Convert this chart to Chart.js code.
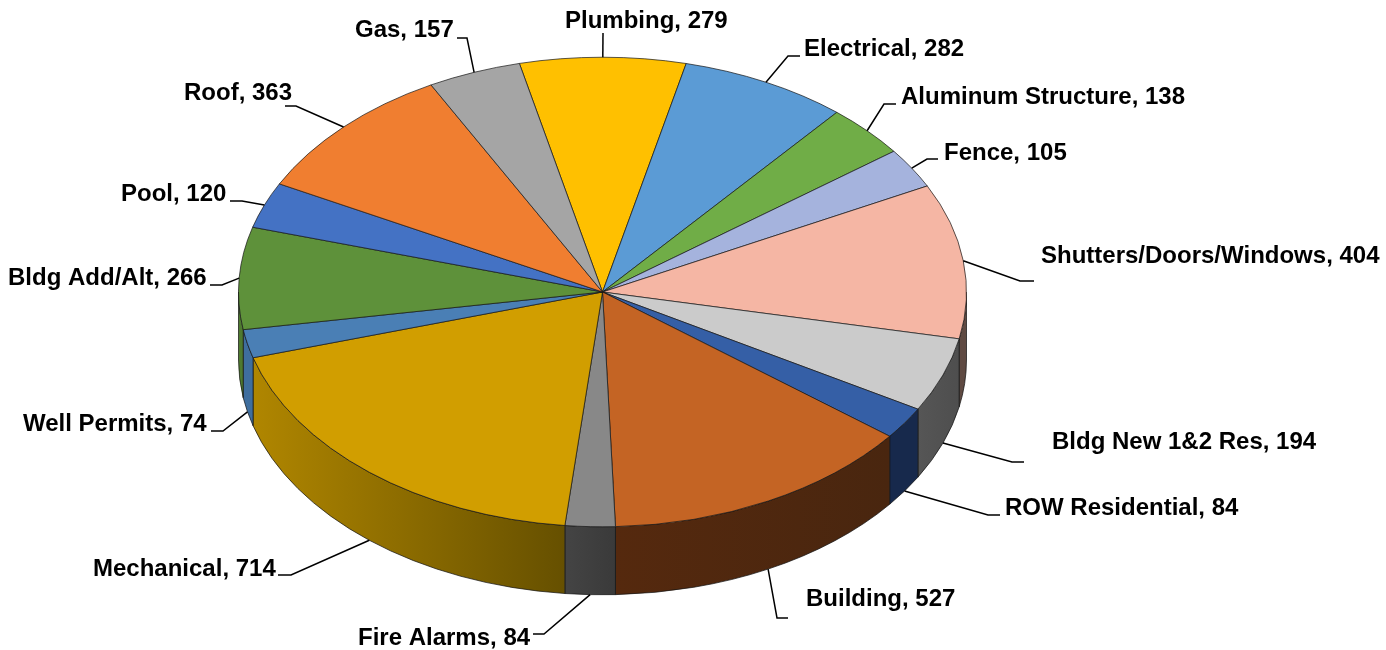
<!DOCTYPE html>
<html>
<head>
<meta charset="utf-8">
<style>html,body{margin:0;padding:0;background:#fff}canvas{display:block}</style>
<script src="https://cdn.jsdelivr.net/npm/chart.js@4/dist/chart.umd.min.js"></script>
</head>
<body>
<canvas id="c" width="1386" height="650"></canvas>
<script>
const categories = ["Plumbing","Electrical","Aluminum Structure","Fence","Shutters/Doors/Windows","Bldg New 1&2 Res","ROW Residential","Building","Fire Alarms","Mechanical","Well Permits","Bldg Add/Alt","Pool","Roof","Gas"];
const values = [279,282,138,105,404,194,84,527,84,714,74,266,120,363,157];
const topColors = ["#FFC000","#5B9BD5","#70AD47","#A5B3DD","#F5B6A4","#CBCBCB","#355FA6","#C46424","#888888","#D19E00","#4A7FB5","#5E913A","#4472C4","#F07E30","#A5A5A5"];
const wallLeft = ["#000","#000","#000","#000","#5F4A42","#565656","#17294C","#55290E","#444444","#B08600","#3F6E9E","#4F7A30","#000","#000","#000"];
const wallRight = ["#000","#000","#000","#000","#5F4A42","#4E4E4E","#17294C","#49260F","#3A3A3A","#665000","#3F6E9E","#4F7A30","#000","#000","#000"];
const labelX = [565,804,901,944,1041,1052,1005,806,358,93,23,8,121,184,355];
const labelY = [21,49,97,153,256,442,508,599,638,569,424,278,194,93,30];
const kneeX = [603,788,884,927,1020,1012,988,777,544,291,223,222,242,296,467];
const kneeY = [33,56,104,159,281,462,515,618,634,575,431,285,201,106,38];
const endX = [603,800,896,938,1034,1024,1000,788,533,278,211,210,230,285,457];
const tilt = 0.645, depth = 68, pieRadius = 364;

const pie3d = {
  id: 'pie3d',
  beforeDatasetsDraw(chart) {
    const ctx = chart.ctx;
    const arcs = chart.getDatasetMeta(0).data;
    arcs.forEach((arc, i) => {
      const a0 = Math.max(arc.startAngle, 0), a1 = Math.min(arc.endAngle, Math.PI);
      if (a1 <= a0) return;
      const cx = arc.x, cy = arc.y, r = arc.outerRadius, ry = r * tilt;
      const grad = ctx.createLinearGradient(cx + r * Math.cos(a1), 0, cx + r * Math.cos(a0), 0);
      grad.addColorStop(0, wallLeft[i]);
      grad.addColorStop(1, wallRight[i]);
      ctx.beginPath();
      ctx.ellipse(cx, cy, r, ry, 0, a0, a1);
      ctx.ellipse(cx, cy + depth, r, ry, 0, a1, a0, true);
      ctx.closePath();
      ctx.fillStyle = grad;
      ctx.fill();
      ctx.lineWidth = 0.9;
      ctx.strokeStyle = 'rgba(20,20,20,0.8)';
      ctx.stroke();
    });
    const a = arcs[0];
    ctx.save();
    ctx.translate(a.x, a.y);
    ctx.scale(1, tilt);
    ctx.translate(-a.x, -a.y);
  },
  afterDatasetsDraw(chart) {
    const ctx = chart.ctx;
    ctx.restore();
    const arcs = chart.getDatasetMeta(0).data;
    arcs.forEach((arc, i) => {
      const mid = (arc.startAngle + arc.endAngle) / 2;
      const sx = arc.x + arc.outerRadius * Math.cos(mid);
      let sy = arc.y + arc.outerRadius * tilt * Math.sin(mid);
      if (Math.sin(mid) > 0.2) sy += depth;
      ctx.beginPath();
      ctx.moveTo(sx, sy);
      ctx.lineTo(kneeX[i], kneeY[i]);
      ctx.lineTo(endX[i], kneeY[i]);
      ctx.lineWidth = 1.5;
      ctx.strokeStyle = '#000';
      ctx.stroke();
      ctx.font = 'bold 24px "Liberation Sans", Arial, sans-serif';
      ctx.fillStyle = '#000';
      ctx.textAlign = 'left';
      ctx.textBaseline = 'middle';
      ctx.fillText(categories[i] + ', ' + values[i], labelX[i], labelY[i]);
    });
  }
};

new Chart(document.getElementById('c'), {
  type: 'pie',
  data: {
    labels: categories,
    datasets: [{
      data: values,
      backgroundColor: topColors,
      borderColor: 'rgba(20,20,20,0.85)',
      borderWidth: 1,
      borderJoinStyle: 'bevel',
      clip: false
    }]
  },
  options: {
    responsive: false,
    animation: false,
    events: [],
    rotation: -13.2,
    radius: pieRadius,
    layout: { padding: { right: 181, bottom: 66 } },
    plugins: { legend: { display: false }, tooltip: { enabled: false } }
  },
  plugins: [pie3d]
});
</script>
</body>
</html>
